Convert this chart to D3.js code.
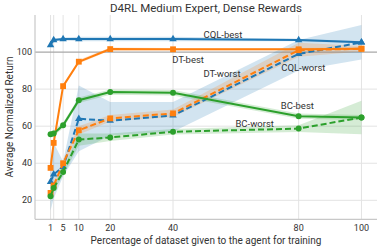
<!DOCTYPE html>
<html>
<head>
<meta charset="utf-8">
<script src="https://cdn.jsdelivr.net/npm/d3@7"></script>
<style>
  body { margin: 0; background: #fff; }
  text { font-family: Roboto, "DejaVu Sans", sans-serif; fill: #333; }
</style>
</head>
<body>
<div id="plot"></div>
<script>
// percentages of dataset used for training
var pcts = [1, 2, 5, 10, 20, 40, 80, 100];
var tickLabels = [1, 5, 10, 20, 40, 80, 100];
var yTicks = [20, 40, 60, 80, 100];

// mean returns and the shaded spread for each run
var cqlBest   = [103.8, 106.5, 107, 107, 107, 107, 106.5, 105.3];
var cqlBestLo = [103.2, 105.8, 106.2, 105.8, 105.8, 105.8, 105.8, 104.8];
var cqlBestHi = [104.4, 107.2, 107.8, 108.2, 108.2, 108.2, 107.2, 105.8];

var cqlWorst   = [30, 34, 38, 64, 63, 65.8, 99, 105.2];
var cqlWorstLo = [14.5, 21, 33, 46.5, 55, 57, 90, 96];
var cqlWorstHi = [42, 51, 41, 82, 73, 73, 106.5, 114.6];

var dtBest   = [37.5, 51, 81.6, 94.8, 101.6, 101.5, 101.5, 101.8];
var dtBestLo = [36.5, 50, 80.6, 93.8, 100.8, 100.8, 100.8, 101.1];
var dtBestHi = [38.5, 52, 82.6, 95.8, 102.4, 102.2, 102.2, 102.5];

var dtWorst   = [24, 28, 40, 57.8, 64.2, 66.9, 101, 101.8];
var dtWorstLo = [22, 26, 38, 55.5, 62.5, 65, 97.5, 100.3];
var dtWorstHi = [26, 30, 42, 60, 66, 69, 105, 103.3];

var bcBest   = [55.7, 56, 60.5, 74, 78.4, 78, 65.4, 64.7];
var bcBestLo = [54.2, 54.5, 59, 72.5, 77, 76.5, 64, 63.3];
var bcBestHi = [57.2, 57.5, 62, 75.5, 79.8, 79.5, 66.8, 66.1];

var bcWorst   = [22.2, 26.7, 35.3, 52.8, 53.9, 57, 58.7, 64.7];
var bcWorstLo = [20.5, 25, 33.5, 49.5, 52, 55.5, 56.8, 55.7];
var bcWorstHi = [24, 28.5, 37, 56, 56, 58.5, 60.5, 73.7];

// text annotations in data coordinates
var notes = [
    {text: "CQL-best",  x: 55.9, y: 109.6},
    {text: "DT-best",   x: 44.8, y: 96.2},
    {text: "DT-worst",  x: 55.6, y: 88.7},
    {text: "CQL-worst", x: 81.5, y: 91.4},
    {text: "BC-best",   x: 79.6, y: 71.3},
    {text: "BC-worst",  x: 66.0, y: 61.3}
];

var blue = "#1f77b4", orange = "#ff7f0e", green = "#2ca02c";

var series = [
    {mean: cqlBest,  lo: cqlBestLo,  hi: cqlBestHi,  color: blue,   dash: null,  marker: d3.symbolTriangle},
    {mean: cqlWorst, lo: cqlWorstLo, hi: cqlWorstHi, color: blue,   dash: "6,3", marker: d3.symbolTriangle},
    {mean: dtBest,   lo: dtBestLo,   hi: dtBestHi,   color: orange, dash: null,  marker: d3.symbolSquare},
    {mean: dtWorst,  lo: dtWorstLo,  hi: dtWorstHi,  color: orange, dash: "6,3", marker: d3.symbolSquare},
    {mean: bcBest,   lo: bcBestLo,   hi: bcBestHi,   color: green,  dash: null,  marker: d3.symbolCircle},
    {mean: bcWorst,  lo: bcWorstLo,  hi: bcWorstHi,  color: green,  dash: "6,3", marker: d3.symbolCircle}
];

var W = 382, H = 249;
var plotL = 35, plotR = 377, plotT = 15, plotB = 219.3;

var svg = d3.select("#plot").append("svg")
    .attr("width", W).attr("height", H);

var x = d3.scaleLinear().domain([-3.95, 104.95]).range([plotL, plotR]);
var y = d3.scaleLinear().domain([9.75, 120]).range([plotB, plotT]);

// grid
svg.append("g").selectAll("line")
    .data(pcts).enter().append("line")
    .attr("x1", function(d){ return x(d); }).attr("x2", function(d){ return x(d); })
    .attr("y1", plotT).attr("y2", plotB)
    .attr("stroke", "#e3e3e3").attr("stroke-width", 1);

svg.append("g").selectAll("line")
    .data(yTicks).enter().append("line")
    .attr("x1", plotL).attr("x2", plotR)
    .attr("y1", function(d){ return y(d); }).attr("y2", function(d){ return y(d); })
    .attr("stroke", function(d){ return d === 100 ? "#a8a8a8" : "#e3e3e3"; })
    .attr("stroke-width", function(d){ return d === 100 ? 1.2 : 1; });

// spines
svg.append("line").attr("x1", plotL).attr("x2", plotL).attr("y1", plotT).attr("y2", plotB)
    .attr("stroke", "#c8c8c8").attr("stroke-width", 1.2);
svg.append("line").attr("x1", plotL).attr("x2", plotR).attr("y1", plotB).attr("y2", plotB)
    .attr("stroke", "#c8c8c8").attr("stroke-width", 1.2);

// shaded spread
var area = d3.area()
    .x(function(d){ return x(d.p); })
    .y0(function(d){ return y(d.lo); })
    .y1(function(d){ return y(d.hi); });

series.forEach(function(s){
    var pts = pcts.map(function(p, i){ return {p: p, lo: s.lo[i], hi: s.hi[i]}; });
    svg.append("path").datum(pts)
        .attr("d", area)
        .attr("fill", s.color).attr("fill-opacity", 0.2);
});

// lines and markers
var line = d3.line()
    .x(function(d){ return x(d.p); })
    .y(function(d){ return y(d.v); });

series.forEach(function(s){
    var pts = pcts.map(function(p, i){ return {p: p, v: s.mean[i]}; });
    svg.append("path").datum(pts)
        .attr("d", line)
        .attr("fill", "none")
        .attr("stroke", s.color)
        .attr("stroke-width", 2)
        .attr("stroke-dasharray", s.dash);
    var size = s.marker === d3.symbolSquare ? 34 : (s.marker === d3.symbolCircle ? 28 : 24);
    svg.append("g").selectAll("path")
        .data(pts).enter().append("path")
        .attr("d", d3.symbol().type(s.marker).size(size))
        .attr("transform", function(d){ return "translate(" + x(d.p) + "," + y(d.v) + ")"; })
        .attr("fill", s.color);
});

// annotations
svg.append("g").selectAll("text")
    .data(notes).enter().append("text")
    .attr("x", function(d){ return x(d.x); })
    .attr("y", function(d){ return y(d.y); })
    .attr("text-anchor", "middle")
    .attr("dominant-baseline", "central")
    .attr("font-size", 9.5)
    .text(function(d){ return d.text; });

// tick labels
svg.append("g").selectAll("text")
    .data(tickLabels).enter().append("text")
    .attr("x", function(d){ return x(d); })
    .attr("y", 228)
    .attr("text-anchor", "middle")
    .attr("dominant-baseline", "central")
    .attr("font-size", 9)
    .text(function(d){ return d; });

svg.append("g").selectAll("text")
    .data(yTicks).enter().append("text")
    .attr("x", 32)
    .attr("y", function(d){ return y(d); })
    .attr("text-anchor", "end")
    .attr("dominant-baseline", "central")
    .attr("font-size", 9)
    .text(function(d){ return d; });

// titles
svg.append("text")
    .attr("x", 206).attr("y", 8)
    .attr("text-anchor", "middle").attr("dominant-baseline", "central")
    .attr("font-size", 11.5)
    .text("D4RL Medium Expert, Dense Rewards");

svg.append("text")
    .attr("x", 206).attr("y", 240)
    .attr("text-anchor", "middle").attr("dominant-baseline", "central")
    .attr("font-size", 10)
    .text("Percentage of dataset given to the agent for training");

svg.append("text")
    .attr("transform", "translate(9,117) rotate(-90)")
    .attr("text-anchor", "middle").attr("dominant-baseline", "central")
    .attr("font-size", 10)
    .text("Average Normalized Return");
</script>
</body>
</html>
